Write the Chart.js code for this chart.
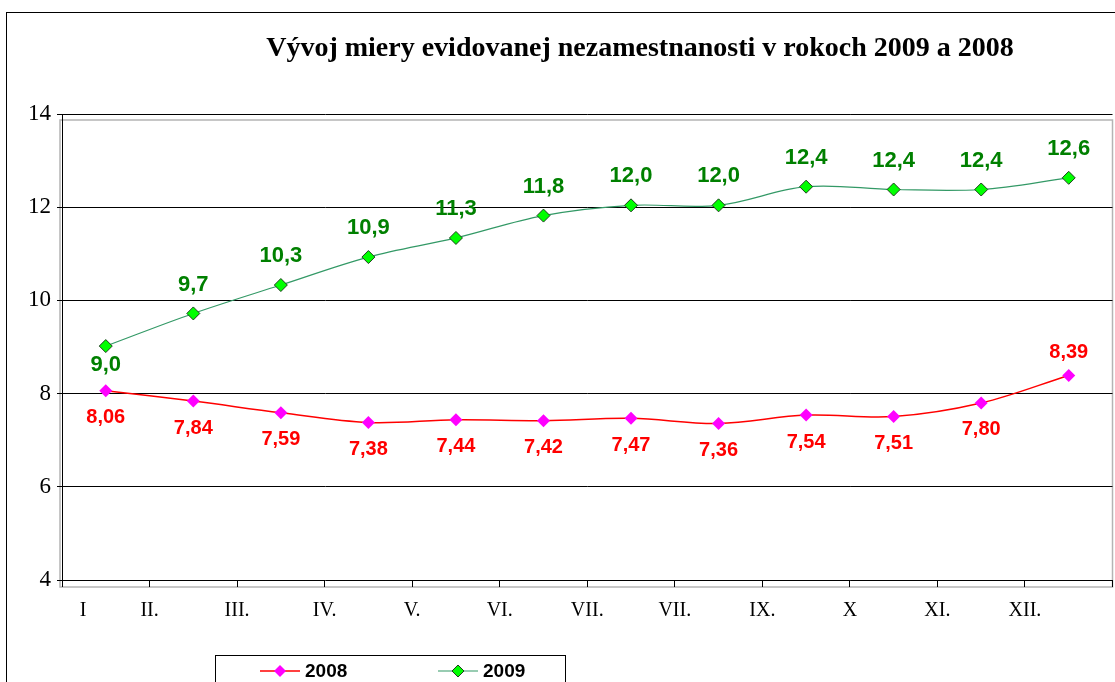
<!DOCTYPE html>
<html>
<head>
<meta charset="utf-8">
<script src="https://cdn.jsdelivr.net/npm/chart.js@4.4.0/dist/chart.umd.min.js"></script>
<style>
  html, body { margin: 0; padding: 0; background: #fff; overflow: hidden; }
</style>
</head>
<body>
<canvas id="chart" width="1120" height="682"></canvas>
<script>
/* ===== DATA ===== */
const TITLE = 'Vývoj miery evidovanej nezamestnanosti v rokoch 2009 a 2008';
const MONTHS = ['I', 'II.', 'III.', 'IV.', 'V.', 'VI.', 'VII.', 'VII.', 'IX.', 'X', 'XI.', 'XII.'];
const Y_TICKS = [4, 6, 8, 10, 12, 14];
const YEARS = ['2008', '2009'];
const VALUES_2008 = [8.06, 7.84, 7.59, 7.38, 7.44, 7.42, 7.47, 7.36, 7.54, 7.51, 7.80, 8.39];
const VALUES_2009 = [9.02, 9.72, 10.33, 10.93, 11.34, 11.82, 12.04, 12.04, 12.44, 12.38, 12.38, 12.63];

const SERIF = '"Liberation Serif", "Times New Roman", serif';
const SANS = '"Liberation Sans", Arial, sans-serif';

// 2008 -> 2 decimals, 2009 -> 1 decimal, with comma
const fmt = (v, d) => v.toFixed(d).replace('.', ',');

// Plugin: frame, gray plot border, title, legend
const decor = {
  id: 'decor',
  beforeDraw(chart) {
    const { ctx, chartArea: a, width, height } = chart;
    ctx.save();
    ctx.fillStyle = '#fff';
    ctx.fillRect(0, 0, width, height);
    ctx.strokeStyle = '#000';
    ctx.lineWidth = 1;
    ctx.strokeRect(6.5, 12.5, width + 20, height + 20);
    ctx.strokeStyle = '#b4b4b4';
    ctx.lineWidth = 1.5;
    ctx.strokeRect(a.left - 2, a.top + 6, a.right - a.left + 2, a.bottom - a.top + 1);
    ctx.restore();
  },
  afterDraw(chart) {
    const { ctx, chartArea: a } = chart;
    ctx.save();
    // y axis runs a little below the chart area
    ctx.strokeStyle = '#000';
    ctx.lineWidth = 1;
    ctx.beginPath();
    ctx.moveTo(Math.round(a.left) + 0.5, a.bottom);
    ctx.lineTo(Math.round(a.left) + 0.5, a.bottom + 7);
    ctx.stroke();

    // title
    ctx.fillStyle = '#000';
    ctx.font = 'bold 28px ' + SERIF;
    ctx.textAlign = 'center';
    ctx.textBaseline = 'middle';
    ctx.fillText(TITLE, 640, 49);

    // legend box
    ctx.lineWidth = 1;
    ctx.strokeStyle = '#000';
    ctx.strokeRect(215.5, 655.5, 350, 40);
    const items = [{ x: 260 }, { x: 438 }];
    chart.data.datasets.forEach((ds, i) => {
      const x0 = items[i].x, y = 671;
      ctx.strokeStyle = ds.borderColor;
      ctx.lineWidth = ds.borderWidth;
      ctx.beginPath();
      ctx.moveTo(x0, y);
      ctx.lineTo(x0 + 40, y);
      ctx.stroke();
      ctx.fillStyle = ds.pointBackgroundColor;
      ctx.strokeStyle = ds.pointBorderColor;
      ctx.lineWidth = ds.pointBorderWidth;
      ctx.beginPath();
      ctx.moveTo(x0 + 20, y - 6);
      ctx.lineTo(x0 + 26, y);
      ctx.lineTo(x0 + 20, y + 6);
      ctx.lineTo(x0 + 14, y);
      ctx.closePath();
      ctx.fill();
      if (ds.pointBorderWidth) ctx.stroke();
      ctx.fillStyle = '#000';
      ctx.font = 'bold 19px ' + SANS;
      ctx.textAlign = 'left';
      ctx.fillText(ds.label, x0 + 45, y + 1);
    });
    ctx.restore();
  }
};

// Plugin: value label at each point
const pointLabels = {
  id: 'pointLabels',
  afterDatasetsDraw(chart) {
    const { ctx } = chart;
    chart.data.datasets.forEach((ds, di) => {
      const meta = chart.getDatasetMeta(di);
      const last = meta.data.length - 1;
      meta.data.forEach((el, i) => {
        const v = ds.data[i].y;
        let dy;
        if (di === 0) dy = (i === last) ? -23 : 27;   // 2008 below, last above
        else dy = (i === 0) ? 19 : -29;               // 2009 above, first below
        ctx.save();
        ctx.font = 'bold ' + ds.labelSize + 'px ' + SANS;
        ctx.fillStyle = ds.labelColor;
        ctx.textAlign = 'center';
        ctx.textBaseline = 'middle';
        ctx.fillText(fmt(v, ds.decimals), el.x, el.y + dy);
        ctx.restore();
      });
    });
  }
};

const toPoints = arr => arr.map((v, i) => ({ x: i + 0.5, y: v }));

new Chart(document.getElementById('chart'), {
  type: 'line',
  data: {
    datasets: [
      {
        label: YEARS[0],
        data: toPoints(VALUES_2008),
        borderColor: '#FF0000',
        borderWidth: 1.5,
        tension: 0.35,
        pointStyle: 'rectRot',
        pointRadius: 6.5,
        pointBackgroundColor: '#FF00FF',
        pointBorderColor: '#FF00FF',
        pointBorderWidth: 0,
        labelColor: '#FF0000',
        labelSize: 20,
        decimals: 2
      },
      {
        label: YEARS[1],
        data: toPoints(VALUES_2009),
        borderColor: '#339966',
        borderWidth: 1.2,
        tension: 0.35,
        pointStyle: 'rectRot',
        pointRadius: 6.5,
        pointBackgroundColor: '#00FF00',
        pointBorderColor: '#1F3F1F',
        pointBorderWidth: 1,
        labelColor: '#008000',
        labelSize: 22,
        decimals: 1
      }
    ]
  },
  options: {
    responsive: false,
    devicePixelRatio: 1,
    animation: false,
    events: [],
    layout: { padding: { top: 114, right: 0, left: 0, bottom: 0 } },
    plugins: { legend: { display: false }, title: { display: false }, tooltip: { enabled: false } },
    scales: {
      x: {
        type: 'linear',
        min: 0, max: 12,
        afterBuildTicks(s) {
          s.ticks = [{ value: 0.24 }]
            .concat(MONTHS.slice(1).map((_, i) => ({ value: i + 1 })))
            .concat([{ value: 12 }]);
        },
        ticks: {
          autoSkip: false, maxRotation: 0,
          color: '#000',
          font: { family: SERIF, size: 20 },
          padding: 12,
          callback: (v, i) => (i < MONTHS.length ? MONTHS[i] : '')
        },
        grid: {
          drawOnChartArea: false,
          tickLength: 7,
          color: c => (c.tick && c.tick.value === 0.24 ? 'rgba(0,0,0,0)' : '#000')
        },
        border: { display: false },
        afterFit(s) { s.height = 102; s.paddingLeft = 0; s.paddingRight = 0; }
      },
      y: {
        min: 4, max: 14,
        afterBuildTicks(s) { s.ticks = Y_TICKS.map(v => ({ value: v })); },
        ticks: { color: '#000', font: { family: SERIF, size: 23 }, padding: 6 },
        grid: { color: '#000', tickLength: 5 },
        border: { color: '#000' },
        afterFit(s) { s.width = 62; s.paddingTop = 0; s.paddingBottom = 0; }
      }
    }
  },
  plugins: [decor, pointLabels]
});
</script>
</body>
</html>
